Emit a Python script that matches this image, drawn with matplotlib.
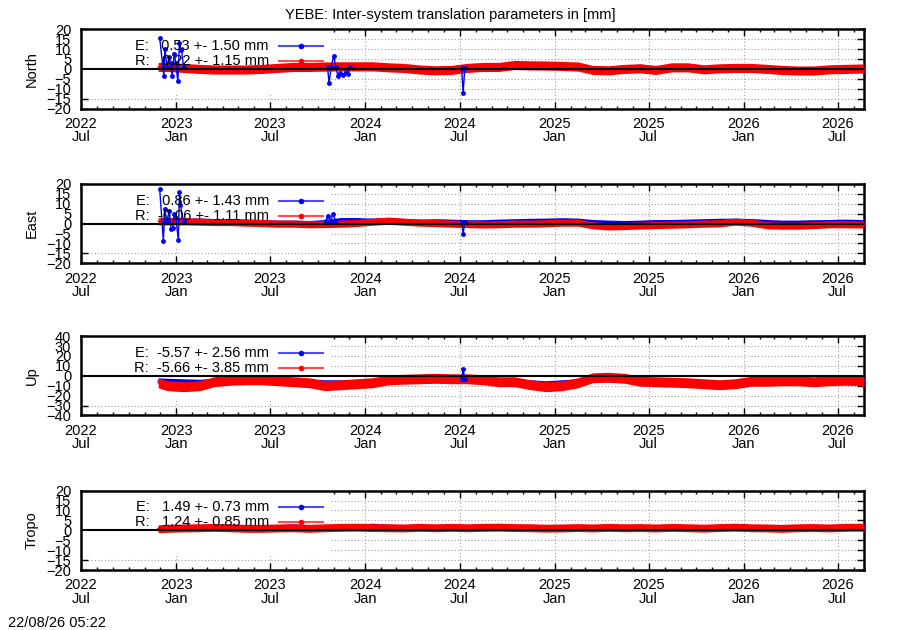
import numpy as np
import pandas as pd
import matplotlib
matplotlib.use("Agg")
import matplotlib.pyplot as plt
from matplotlib.patches import Rectangle
from matplotlib.lines import Line2D

plt.rcParams["font.family"] = ["Liberation Sans", "DejaVu Sans"]

TITLE = "YEBE: Inter-system translation parameters in [mm]"
STAMP = "22/08/26 05:22"

# x axis: days since ORIGIN
ORIGIN = pd.Timestamp("2022-07-01")
X_END = pd.Timestamp("2026-08-21")
major_dates = ["2022-07-01", "2023-01-01", "2023-07-01", "2024-01-01", "2024-07-01",
               "2025-01-01", "2025-07-01", "2026-01-01", "2026-07-01"]
major_labels = ["2022\nJul", "2023\nJan", "2023\nJul", "2024\nJan", "2024\nJul",
                "2025\nJan", "2025\nJul", "2026\nJan", "2026\nJul"]

# sample dates for the (daily, noisy) series, read roughly month by month
sample_dates = [
    "2022-11-27", "2022-12-15", "2023-01-15", "2023-02-15", "2023-03-15", "2023-04-15",
    "2023-05-15", "2023-06-15", "2023-07-15", "2023-08-15", "2023-09-15", "2023-10-15",
    "2023-11-15", "2023-12-15", "2024-01-15", "2024-02-15", "2024-03-15", "2024-04-15",
    "2024-05-15", "2024-06-15", "2024-07-15", "2024-08-15", "2024-09-15", "2024-10-15",
    "2024-11-15", "2024-12-15", "2025-01-15", "2025-02-15", "2025-03-15", "2025-04-15",
    "2025-05-15", "2025-06-15", "2025-07-15", "2025-08-15", "2025-09-15", "2025-10-15",
    "2025-11-15", "2025-12-15", "2026-01-15", "2026-02-15", "2026-03-15", "2026-04-15",
    "2026-05-15", "2026-06-15", "2026-07-15", "2026-08-15", "2026-08-21",
]
nan = np.nan

# ---- North ----
north_r = [1.0, 1.0, 0.5, 0.0, -0.3, -0.3, -0.3, 0.0, 0.5, 1.0, 1.0, 1.2, 1.3, 1.3, 1.3, 0.8,
           0.5, -0.3, -0.7, -0.5, 0.5, 1.0, 1.0, 2.0, 1.8, 1.7, 1.5, 1.2, -0.5, -0.7, 0.0, 0.3,
           -0.5, 0.8, 0.8, -0.2, 0.3, 0.5, 0.5, 0.0, -0.5, -0.8, -0.8, -0.2, 0.0, 0.2, 0.0]
north_e = [nan, nan, 1.0, 0.5, 0.3, 0.2, 0.3, 0.5, 0.8, 1.0, 1.0, 1.2, 1.0, 1.2, 1.8, 1.5,
           0.8, 0.3, 0.0, 0.2, 0.7, 1.0, 1.0, 1.5, 1.3, 1.2, 2.2, 1.8, 0.3, 0.0, 0.8, 1.2,
           0.0, 1.5, 1.2, 0.5, 0.8, 1.0, 0.8, 0.5, 0.0, -0.5, -0.3, 0.3, 0.8, -0.5, -1.2]
north_r_spread, north_e_spread = 2.3, 1.2
north_e_early_dates = ["2022-11-30", "2022-12-08", "2022-12-10", "2022-12-14", "2022-12-18",
                       "2022-12-21", "2022-12-24", "2022-12-28", "2022-12-31", "2023-01-04",
                       "2023-01-07", "2023-01-11", "2023-01-15"]
north_e_early = [15.5, -3.5, 10.0, 1.0, 6.0, 3.0, -3.5, 7.5, 3.0, -6.3, 13.0, 9.5, 1.0]
north_e_oct23_dates = ["2023-10-20", "2023-10-23", "2023-10-27", "2023-11-01", "2023-11-05",
                       "2023-11-09", "2023-11-13", "2023-11-18", "2023-11-24", "2023-11-29",
                       "2023-12-03"]
north_e_oct23 = [1.0, -7.2, 1.0, 6.5, 1.0, -3.5, -2.0, -3.0, -1.5, -2.5, 1.0]
north_e_jul24_dates = ["2024-07-05", "2024-07-08", "2024-07-11"]
north_e_jul24 = [0.5, -12.3, 0.5]

# ---- East ----
east_r = [1.2, 1.2, 1.2, 1.0, 0.8, 0.8, 0.5, 0.3, 0.0, 0.0, -0.3, -0.2, 0.0, 0.3, 1.0, 1.5,
          1.0, 0.5, 0.3, 0.0, -0.2, -0.4, -0.3, 0.0, 0.0, 0.2, 0.5, 0.5, -0.8, -1.4, -1.2,
          -0.9, -0.7, -0.5, -0.3, 0.0, 0.2, 1.0, 0.5, -0.8, -1.0, -1.0, -0.7, -0.3, -0.3,
          -0.4, -0.5]
east_e = [nan, nan, 1.5, 1.5, 1.3, 1.2, 1.0, 0.8, 0.5, 0.5, 0.3, 0.8, 1.8, 1.8, 1.5, 1.8,
          1.3, 1.0, 1.2, 1.0, 0.7, 0.7, 1.0, 1.2, 1.4, 1.5, 1.7, 1.5, 0.8, 0.5, 0.3, 0.5,
          0.8, 0.8, 1.0, 1.2, 1.4, 1.5, 1.3, 0.8, 0.5, 0.5, 0.7, 0.8, 1.0, 0.8, 0.5]
east_r_spread, east_e_spread = 1.8, 1.3
east_e_early_dates = ["2022-11-30", "2022-12-07", "2022-12-10", "2022-12-14", "2022-12-18",
                      "2022-12-22", "2022-12-25", "2022-12-28", "2022-12-31", "2023-01-05",
                      "2023-01-07", "2023-01-09", "2023-01-15"]
east_e_early = [17.3, -8.5, 7.2, 1.0, 6.3, -2.7, -2.0, 5.0, 3.0, -8.2, 16.0, 9.2, 1.5]
east_e_oct23_dates = ["2023-10-17", "2023-10-21", "2023-10-26", "2023-10-31", "2023-11-04"]
east_e_oct23 = [1.5, 4.0, 1.5, 5.0, 1.5]
east_e_jul24_dates = ["2024-07-05", "2024-07-08", "2024-07-11"]
east_e_jul24 = [0.8, -5.0, 0.8]

# ---- Up ----
up_r = [-7.0, -10.0, -11.0, -10.0, -6.0, -4.5, -4.0, -4.0, -5.0, -6.0, -7.0, -10.0, -9.0,
        -8.0, -7.0, -4.0, -3.5, -3.0, -2.5, -3.0, -3.0, -4.0, -6.0, -6.0, -9.0, -11.0, -10.0,
        -7.0, -2.0, -1.5, -2.5, -5.5, -6.0, -6.5, -7.0, -8.0, -9.0, -8.0, -5.5, -5.5, -5.0,
        -5.0, -6.0, -5.0, -4.5, -5.0, -6.0]
up_e = [-5.0, -5.5, -6.0, -6.5, -5.5, -5.0, -4.0, -4.0, -5.0, -5.5, -6.0, -7.0, -7.0, -7.0,
        -6.0, -4.5, -4.0, -4.0, -4.0, -3.5, -4.0, -5.0, -6.0, -6.0, -7.0, -8.0, -7.0, -6.0,
        -3.0, -3.0, -3.5, -5.5, -6.5, -6.5, -7.0, -8.0, -9.0, -8.0, -5.0, -4.5, -4.0, -3.5,
        -5.0, -4.0, -4.0, -5.0, -5.0]
up_r_spread, up_e_spread = 5.0, 3.0
up_e_jul24_dates = ["2024-07-05", "2024-07-08", "2024-07-11"]
up_e_jul24 = [-3.5, 6.7, -3.5]

# ---- Tropo ----
tropo_r = [0.8, 1.0, 1.2, 1.3, 1.5, 1.3, 1.0, 1.0, 1.2, 1.3, 1.0, 1.3, 1.5, 1.6, 1.4, 1.3,
           1.2, 1.5, 1.3, 1.5, 1.3, 1.5, 1.6, 1.4, 1.3, 1.1, 1.2, 1.4, 1.2, 1.5, 1.3, 1.4,
           1.2, 1.5, 1.3, 1.1, 1.4, 1.6, 1.3, 1.2, 1.0, 1.3, 1.4, 1.2, 1.5, 1.6, 1.5]
tropo_e = [1.0, 1.2, 1.5, 1.6, 1.8, 1.6, 1.3, 1.3, 1.5, 2.0, 1.4, 1.5, 1.8, 1.9, 2.3, 1.8,
           1.5, 1.8, 1.6, 1.8, 1.6, 1.8, 1.9, 1.7, 1.6, 1.4, 1.5, 1.7, 1.5, 1.8, 1.6, 1.7,
           1.5, 1.8, 1.6, 1.4, 1.7, 1.9, 1.6, 1.5, 1.2, 1.5, 1.7, 1.5, 1.8, 1.9, 1.8]
tropo_r_spread, tropo_e_spread = 2.0, 1.3

# key statistics (mean, std) per panel
north_stats = {"E": (0.53, 1.50), "R": (0.22, 1.15)}
east_stats = {"E": (0.86, 1.43), "R": (-0.06, 1.11)}
up_stats = {"E": (-5.57, 2.56), "R": (-5.66, 3.85)}
tropo_stats = {"E": (1.49, 0.73), "R": (1.24, 0.85)}

BLUE = "#0000ff"
RED = "#ff0000"
FS = 10.5


def to_days(dates):
    return np.asarray((pd.to_datetime(dates) - ORIGIN).days, dtype=float)


def draw_panel(ax, name, ylim, ystep, r_vals, r_spread, e_vals, e_spread, episodes, stats):
    x = to_days(sample_dates)
    r = np.array(r_vals)
    e = np.array(e_vals)

    ax.set_xlim(0, to_days([X_END])[0])
    ax.set_ylim(-ylim, ylim)
    ax.set_yticks(np.arange(-ylim, ylim + 1, ystep))
    ax.set_xticks(to_days(major_dates), major_labels)
    months = pd.date_range("2022-07-01", "2026-08-01", freq="MS")
    ax.set_xticks(to_days(months), minor=True)
    for lab in ax.get_xticklabels():
        lab.set_linespacing(0.95)
    ax.tick_params(which="both", direction="in", top=True, right=True,
                   labelsize=FS, width=1.0)
    ax.tick_params(which="major", length=5)
    ax.tick_params(which="minor", length=2.5)
    ax.tick_params(axis="x", pad=6)
    ax.tick_params(axis="y", pad=7)
    for sp in ax.spines.values():
        sp.set_linewidth(1.8)

    ax.set_axisbelow(True)
    ax.grid(True, which="major", color="#a0a0a0", lw=0.8, ls=(0, (1, 2)))
    # opaque key box hides grid in the upper left corner
    ax.add_patch(Rectangle((0, 0.19), 0.318, 0.81, transform=ax.transAxes,
                           facecolor="white", edgecolor="none", zorder=1))

    ax.fill_between(x, e - e_spread, e + e_spread, color=BLUE, lw=0, zorder=3)
    ax.plot(x, e, color=BLUE, lw=1, zorder=3)
    ax.fill_between(x, r - r_spread, r + r_spread, color=RED, lw=0, zorder=4)
    ax.plot(x, r, color=RED, lw=1, zorder=4)
    for d, v in episodes:
        ax.plot(to_days(d), v, color=BLUE, lw=1, marker="o", ms=2.5, zorder=4.5)

    ax.axhline(0, color="black", lw=1.5, zorder=5)

    # key
    for (lab, col), yy in zip([("E", BLUE), ("R", RED)], [0.79, 0.60]):
        mean, std = stats[lab]
        ax.text(0.240, yy, f"{lab}: {mean:6.2f} +- {std:4.2f} mm", transform=ax.transAxes,
                ha="right", va="center", fontsize=FS, zorder=6)
        ax.add_line(Line2D([0.253, 0.309], [yy, yy], transform=ax.transAxes, color=col,
                           lw=1.5, alpha=0.7, zorder=6))
        ax.add_line(Line2D([0.281], [yy], transform=ax.transAxes, color=col, marker="o",
                           ms=3, zorder=6))

    pos = ax.get_position()
    ax.figure.text(31.5 / 900, pos.y0 + pos.height / 2, name, rotation=90,
                   ha="center", va="center", fontsize=FS)


fig = plt.figure(figsize=(9, 6.3), dpi=100)
bottoms = [0.8276, 0.582, 0.3405, 0.0952]
axes = [fig.add_axes([0.09, b, 0.87, 0.126]) for b in bottoms]

draw_panel(axes[0], "North", 20, 5, north_r, north_r_spread, north_e, north_e_spread,
           [(north_e_early_dates, north_e_early), (north_e_oct23_dates, north_e_oct23),
            (north_e_jul24_dates, north_e_jul24)], north_stats)
draw_panel(axes[1], "East", 20, 5, east_r, east_r_spread, east_e, east_e_spread,
           [(east_e_early_dates, east_e_early), (east_e_oct23_dates, east_e_oct23),
            (east_e_jul24_dates, east_e_jul24)], east_stats)
draw_panel(axes[2], "Up", 40, 10, up_r, up_r_spread, up_e, up_e_spread,
           [(up_e_jul24_dates, up_e_jul24)], up_stats)
draw_panel(axes[3], "Tropo", 20, 5, tropo_r, tropo_r_spread, tropo_e, tropo_e_spread,
           [], tropo_stats)

fig.text(0.5, 1 - 15 / 630, TITLE, ha="center", va="center", fontsize=FS)
fig.text(8 / 900, 1 - 623 / 630, STAMP, ha="left", va="center", fontsize=FS)

fig.savefig("out.png", dpi=100)
